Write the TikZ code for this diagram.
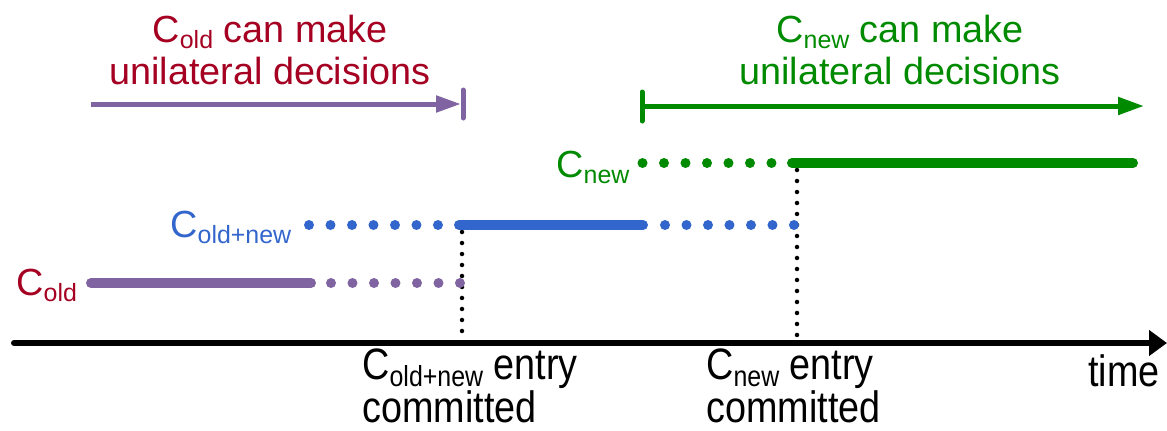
\documentclass[tikz,border=0pt]{standalone}
\usepackage{fontspec}
\setmainfont{Liberation Sans}
\newfontfamily\narrowsans[FakeStretch=0.86]{Liberation Sans}
\usetikzlibrary{arrows.meta}
\definecolor{oldred}{RGB}{165,0,33}
\definecolor{oldpurple}{RGB}{128,100,162}
\definecolor{jointblue}{RGB}{51,102,204}
\definecolor{newgreen}{RGB}{0,138,0}
\newcommand{\cfg}[2][14.2]{C\raisebox{-0.16em}{\fontsize{#1}{#1}\selectfont #2}}

\begin{document}
\begin{tikzpicture}[x=0.02cm,y=-0.02cm]
\tikzset{lbl/.style={font=\fontsize{21.5}{23.8}\selectfont, inner sep=0pt},
  axislbl/.style={font=\narrowsans\fontsize{25}{20.6}\selectfont, inner sep=0pt},
  solidseg/.style={line width=0.2cm, line cap=round},
  dotseg/.style={line width=0.2cm, line cap=round, dash pattern=on 0pt off 0.43cm},
  commit/.style={line width=0.09cm, line cap=round, dash pattern=on 0pt off 0.22cm},
  reign/.style={line width=0.1cm}}
\useasboundingbox (0,0) rectangle (1167,430);
\node[lbl, oldred, align=center, anchor=base] (told) at (270,84) {\cfg{old} can make\\unilateral decisions};
\node[lbl, newgreen, align=center, anchor=base] (tnew) at (900,84) {\cfg{new} can make\\unilateral decisions};
\node[lbl, oldred, anchor=base west] (lold) at (16,295) {\cfg{old}};
\node[lbl, jointblue, anchor=base west] (ljoint) at (170,237) {\cfg{old+new}};
\node[lbl, newgreen, anchor=base west] (lnew) at (556,177) {\cfg{new}};
\node[axislbl, align=left, anchor=base west] (cjoint) at (362,422) {\cfg[16.5]{old+new} entry\\committed};
\node[axislbl, align=left, anchor=base west] (cnew) at (706,422) {\cfg[16.5]{new} entry\\committed};
\node[axislbl, anchor=base east] (time) at (1160,386) {time};
\coordinate (a1) at (91,104);
\coordinate (a2) at (461,104);
\coordinate (b1) at (463,90);
\coordinate (b2) at (463,118);
\coordinate (g1) at (642,106);
\coordinate (g2) at (1144,106);
\coordinate (h1) at (642,92);
\coordinate (h2) at (642,121);
\draw[oldpurple, reign, -{Triangle[length=0.5cm, width=0.32cm]}] (a1) -- (a2);
\draw[oldpurple, reign, line cap=round] (b1) -- (b2);
\draw[newgreen, reign, -{Triangle[length=0.52cm, width=0.34cm]}] (g1) -- (g2);
\draw[newgreen, reign, line cap=round] (h1) -- (h2);
\coordinate (o1) at (91,283);
\coordinate (o2) at (311,283);
\coordinate (o3) at (331,283);
\coordinate (o4) at (460.5,283);
\coordinate (j1) at (309,225);
\coordinate (j2) at (438.5,225);
\coordinate (j3) at (459,225);
\coordinate (j4) at (643,225);
\coordinate (j5) at (665,225);
\coordinate (j6) at (794.5,225);
\coordinate (n1) at (642.5,163);
\coordinate (n2) at (772,163);
\coordinate (n3) at (792,163);
\coordinate (n4) at (1133,163);
\draw[commit] (462,232) coordinate (c1) -- (462,340) coordinate (c2);
\draw[commit] (797,170) coordinate (d1) -- (797,340) coordinate (d2);
\draw[oldpurple, solidseg] (o1) -- (o2);
\draw[oldpurple, dotseg] (o3) -- (o4);
\draw[jointblue, dotseg] (j1) -- (j2);
\draw[jointblue, solidseg] (j3) -- (j4);
\draw[jointblue, dotseg] (j5) -- (j6);
\draw[newgreen, dotseg] (n1) -- (n2);
\draw[newgreen, solidseg] (n3) -- (n4);
\coordinate (t1) at (14,343);
\coordinate (t2) at (1167,343);
\draw[line width=0.12cm, line cap=round, -{Triangle[length=0.36cm, width=0.5cm]}] (t1) -- (t2);
\end{tikzpicture}
\end{document}
